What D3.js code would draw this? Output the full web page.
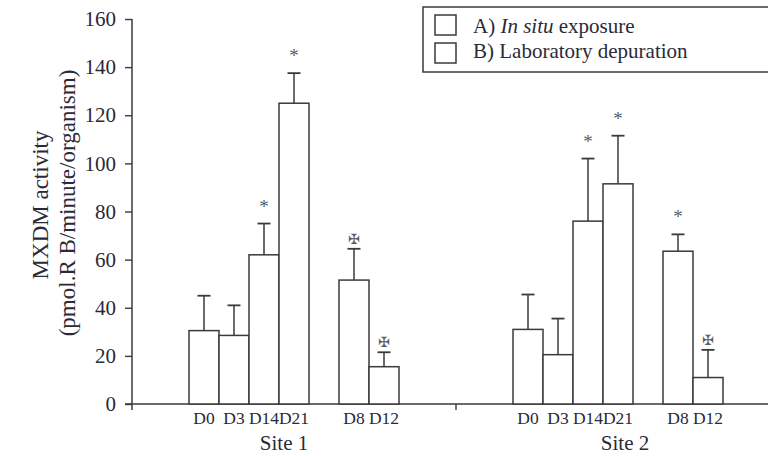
<!DOCTYPE html>
<html>
<head>
<meta charset="utf-8">
<script src="https://cdn.jsdelivr.net/npm/d3@7"></script>
<style>
  html, body { margin: 0; padding: 0; background: #fff; }
  svg { display: block; }
  text { font-family: "Liberation Serif", "Times New Roman", serif; fill: #2a2a38; }
</style>
</head>
<body>
<svg id="chart" width="768" height="456"></svg>
<script>
// ---- data ----
const sites = ["Site 1", "Site 2"];
const daysA = ["D0", "D3", "D14", "D21"];      // A) In situ exposure
const daysB = ["D8", "D12"];                   // B) Laboratory depuration
const days = [...daysA, ...daysB];
const site1Mean = [30.5, 28.5, 62, 125, 51.5, 15.5];
const site1Err  = [14.5, 12.5, 13, 12.5, 13, 6];
const site2Mean = [31, 20.5, 76, 91.5, 63.5, 11];
const site2Err  = [14.5, 15, 26, 20, 7, 11.5];
const site1Mark = ["", "", "*", "*", "\u2720", "\u2720"];
const site2Mark = ["", "", "*", "*", "*", "\u2720"];
const yTicks = [0, 20, 40, 60, 80, 100, 120, 140, 160];
const legendLabels = ["A)", "B) Laboratory depuration"];
const yTitle1 = "MXDM activity";
const yTitle2 = "(pmol.R B/minute/organism)";

const means = [site1Mean, site2Mean];
const errs = [site1Err, site2Err];
const marks = [site1Mark, site2Mark];

const ink = "#3a3a3a";
const svg = d3.select("#chart");

const y = d3.scaleLinear().domain([0, 160]).range([404, 19]);
const siteX = d3.scaleBand().domain(sites).range([132, 780]);
const slots = [...daysA, "gap", ...daysB];
const barX = d3.scaleBand().domain(slots).range([57, 267]);
const bw = barX.bandwidth();

// rows of data
const rows = [];
sites.forEach((s, si) => {
  days.forEach((d, di) => {
    rows.push({ site: s, day: d, mean: means[si][di], err: errs[si][di], mark: marks[si][di] });
  });
});

// ---- y axis ----
const yAxis = svg.append("g")
  .attr("transform", "translate(132,0)")
  .call(d3.axisLeft(y).tickValues(yTicks).tickSize(7).tickPadding(9).tickSizeOuter(0));
yAxis.select(".domain").remove();
yAxis.selectAll(".tick line").attr("stroke", ink).attr("stroke-width", 1.4);
yAxis.selectAll(".tick text")
  .style("font-family", "'Liberation Serif', serif")
  .style("font-size", "21px")
  .style("fill", "#2a2a38");
svg.append("line")
  .attr("x1", 132).attr("x2", 132)
  .attr("y1", y(160)).attr("y2", y(0) + 6)
  .attr("stroke", ink).attr("stroke-width", 1.5);

// ---- x axis line ----
svg.append("line")
  .attr("x1", 125).attr("x2", 768)
  .attr("y1", y(0)).attr("y2", y(0))
  .attr("stroke", ink).attr("stroke-width", 1.5);
svg.selectAll(".sitetick").data(sites).join("line")
  .attr("x1", d => siteX(d) + siteX.bandwidth()).attr("x2", d => siteX(d) + siteX.bandwidth())
  .attr("y1", y(0)).attr("y2", y(0) + 6)
  .attr("stroke", ink).attr("stroke-width", 1.4);

// ---- bars ----
const bx = r => siteX(r.site) + barX(r.day);
svg.selectAll(".bar").data(rows).join("rect")
  .attr("x", bx)
  .attr("y", r => y(r.mean))
  .attr("width", bw)
  .attr("height", r => y(0) - y(r.mean))
  .attr("fill", "#fff")
  .attr("stroke", ink).attr("stroke-width", 1.5);

// ---- error bars ----
svg.selectAll(".errv").data(rows).join("line")
  .attr("x1", r => bx(r) + bw / 2).attr("x2", r => bx(r) + bw / 2)
  .attr("y1", r => y(r.mean)).attr("y2", r => y(r.mean + r.err))
  .attr("stroke", ink).attr("stroke-width", 1.5);
svg.selectAll(".errh").data(rows).join("line")
  .attr("x1", r => bx(r) + bw / 2 - 6.5).attr("x2", r => bx(r) + bw / 2 + 6.5)
  .attr("y1", r => y(r.mean + r.err)).attr("y2", r => y(r.mean + r.err))
  .attr("stroke", ink).attr("stroke-width", 1.8);

// ---- significance marks ----
svg.selectAll(".mark").data(rows.filter(r => r.mark === "*")).join("text")
  .attr("x", r => bx(r) + bw / 2)
  .attr("y", r => y(r.mean + r.err) - 20 + 9)
  .attr("text-anchor", "middle")
  .style("font-size", "19px")
  .style("fill", "#5a5a62")
  .text(r => r.mark);
svg.selectAll(".cross").data(rows.filter(r => r.mark === "\u2720")).join("text")
  .attr("x", r => bx(r) + bw / 2)
  .attr("y", r => y(r.mean + r.err) - 10 + 5)
  .attr("text-anchor", "middle")
  .style("font-family", "'DejaVu Sans', sans-serif")
  .style("font-size", "14px")
  .style("fill", "#5a5a62")
  .text(r => r.mark);

// ---- day labels ----
svg.selectAll(".daylab").data(rows).join("text")
  .attr("x", r => bx(r) + bw / 2)
  .attr("y", 424)
  .attr("text-anchor", "middle")
  .style("font-size", "17.5px")
  .text(r => r.day);

// ---- site labels ----
const siteNudge = [-10, 7];
svg.selectAll(".sitelab").data(sites).join("text")
  .attr("x", (s, i) => siteX(s) + siteX.bandwidth() / 2 + siteNudge[i])
  .attr("y", 450)
  .attr("text-anchor", "middle")
  .style("font-size", "21px")
  .text(s => s);

// ---- y titles ----
svg.append("text")
  .attr("transform", "translate(48,205) rotate(-90)")
  .attr("text-anchor", "middle")
  .style("font-size", "23px")
  .text(yTitle1);
svg.append("text")
  .attr("transform", "translate(75,203) rotate(-90)")
  .attr("text-anchor", "middle")
  .style("font-size", "23px")
  .text(yTitle2);

// ---- legend ----
const lg = svg.append("g");
lg.append("rect")
  .attr("x", 423).attr("y", 7).attr("width", 360).attr("height", 65)
  .attr("fill", "#fff").attr("stroke", ink).attr("stroke-width", 1.5);
[0, 1].forEach(i => {
  lg.append("rect")
    .attr("x", 435).attr("y", 15 + i * 28).attr("width", 21).attr("height", 20)
    .attr("fill", "#fff").attr("stroke", ink).attr("stroke-width", 1.5);
});
const t1 = lg.append("text").attr("x", 473).attr("y", 33).style("font-size", "21px");
t1.append("tspan").text(legendLabels[0] + " ");
t1.append("tspan").style("font-style", "italic").text("In situ");
t1.append("tspan").text(" exposure");
lg.append("text").attr("x", 473).attr("y", 58).style("font-size", "21px").text(legendLabels[1]);
</script>
</body>
</html>
